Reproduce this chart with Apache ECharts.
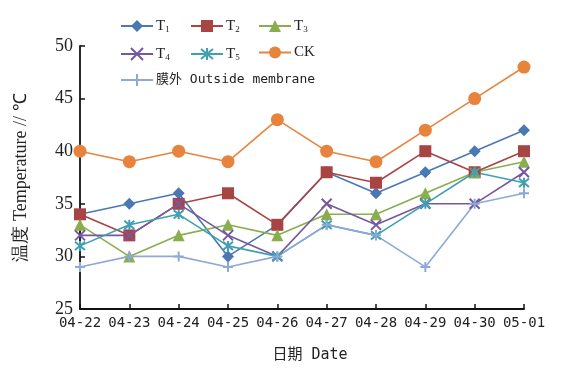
<!DOCTYPE html>
<html>
<head>
<meta charset="utf-8">
<script src="https://cdn.jsdelivr.net/npm/echarts@6/dist/echarts.min.js"></script>
<style>
html,body{margin:0;padding:0;background:#fff;}
#c{width:571px;height:368px;}
</style>
</head>
<body>
<div id="c"></div>
<script>
const categories = ['04-22','04-23','04-24','04-25','04-26','04-27','04-28','04-29','04-30','05-01'];
const T1 = [34,35,36,30,33,38,36,38,40,42];
const T2 = [34,32,35,36,33,38,37,40,38,40];
const T3 = [33,30,32,33,32,34,34,36,38,39];
const T4 = [32,32,35,32,30,35,33,35,35,38];
const T5 = [31,33,34,31,30,33,32,35,38,37];
const CK = [40,39,40,39,43,40,39,42,45,48];
const outside = [29,30,30,29,30,33,32,29,35,36];
const yTicks = [25,30,35,40,45,50];

const serif = '"Liberation Serif", "Times New Roman", serif';
const mono = '"DejaVu Sans Mono", "Noto Sans CJK SC", monospace';

const xPath = 'path://M0,0 L10,10 M10,0 L0,10';
const starPath = 'path://M0,0 L10,10 M10,0 L0,10 M5,-1 L5,11';
const plusPath = 'path://M0,5 L10,5 M5,0 L5,10';

function mk(name, data, color, symbol, size, stroke) {
  const s = {
    name: name, type: 'line', data: data, color: color,
    symbol: symbol, symbolSize: size,
    lineStyle: {color: color, width: 1.6},
    itemStyle: stroke ? {color: 'rgba(0,0,0,0)', borderColor: color, borderWidth: 2} : {color: color},
    emphasis: {disabled: true},
    animation: false, z: 2
  };
  return s;
}

const series = [
  mk('T1', T1, '#4A78B4', 'diamond', 12),
  mk('T2', T2, '#A94444', 'rect', 12),
  mk('T3', T3, '#8AAE4F', 'triangle', 12),
  mk('T4', T4, '#7657A0', xPath, 10, true),
  mk('T5', T5, '#3EA0B0', starPath, 10, true),
  mk('CK', CK, '#E8833E', 'circle', 13),
  mk('膜外 Outside membrane', outside, '#8EA9D8', plusPath, 10, true)
];

const rich = {
  t: {fontFamily: serif, fontSize: 15, color: '#222', lineHeight: 16},
  s: {fontFamily: serif, fontSize: 9, color: '#222', lineHeight: 16, verticalAlign: 'bottom', padding: [8,0,0,0]},
  m: {fontFamily: mono, fontSize: 13, color: '#222', lineHeight: 16}
};
function fmt(name) {
  const m = /^T(\d)$/.exec(name);
  if (m) return '{t|T}{s|' + m[1] + '}';
  if (name === 'CK') return '{t|CK}';
  return '{m|' + name + '}';
}
function legendCol(left, names) {
  return {
    orient: 'vertical', left: left, top: 12,
    itemWidth: 32, itemHeight: 15, itemGap: 11,
    data: names, formatter: fmt,
    textStyle: {rich: rich, padding: [0,0,0,-2]},
    selectedMode: false
  };
}

const chart = echarts.init(document.getElementById('c'), null, {renderer: 'canvas'});
chart.setOption({
  animation: false,
  backgroundColor: '#fff',
  grid: {left: 80, right: 47, top: 46, bottom: 55, containLabel: false},
  legend: [
    legendCol(115, ['T1','T4','膜外 Outside membrane']),
    legendCol(185, ['T2','T5']),
    legendCol(253, ['T3','CK'])
  ],
  xAxis: {
    type: 'category', data: categories, boundaryGap: false,
    name: '日期 Date', nameLocation: 'middle', nameGap: 39,
    nameTextStyle: {fontFamily: mono, fontSize: 15, color: '#222', padding: [0,0,0,16]},
    axisLine: {lineStyle: {color: '#111', width: 1.8}},
    axisTick: {inside: true, length: 5, alignWithLabel: true, lineStyle: {color: '#111', width: 1.5}},
    axisLabel: {fontFamily: mono, fontSize: 14, color: '#222', margin: 7, interval: 0},
    splitLine: {show: false}
  },
  yAxis: {
    type: 'value', min: yTicks[0], max: yTicks[yTicks.length-1], interval: 5,
    name: '温度 Temperature // ℃', nameLocation: 'middle', nameGap: 50,
    nameTextStyle: {fontFamily: serif, fontSize: 18, color: '#222'},
    axisLine: {show: true, lineStyle: {color: '#111', width: 1.8}},
    axisTick: {show: true, inside: true, length: 5, lineStyle: {color: '#111', width: 1.5}},
    axisLabel: {fontFamily: serif, fontSize: 18, color: '#222', margin: 7},
    splitLine: {show: false}
  },
  series: series
});
</script>
</body>
</html>
